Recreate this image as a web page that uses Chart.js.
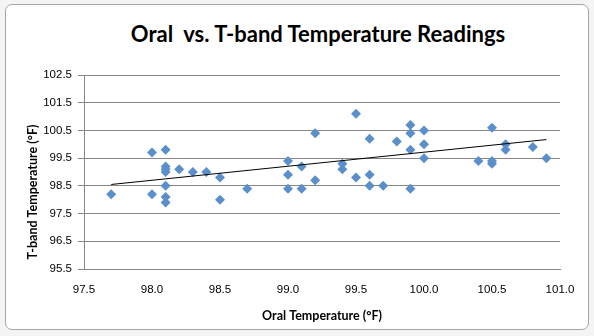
<!DOCTYPE html>
<html>

<head>
    <title>Oral vs. T-band</title>
    <style>
        html,
        body {
            margin: 0;
            padding: 0;
            width: 594px;
            height: 336px;
            overflow: hidden;
            background: #f4f4f4;
        }

        #frame {
            position: absolute;
            left: 5px;
            top: 4px;
            width: 582px;
            height: 324px;
            background: #fff;
            border: 1px solid #a6a6a6;
            border-radius: 7px;
        }

        #title {
            position: absolute;
            left: 0;
            top: 20px;
            width: 636px;
            text-align: center;
            font: bold 22px Lato, "Open Sans", sans-serif;
            color: #000;
        }

        #chart {
            position: absolute;
            left: 0;
            top: 0;
        }
    </style>
</head>

<body>
    <div id="frame"></div>
    <div id="title">Oral&nbsp; vs. T-band Temperature Readings</div>
    <canvas id="chart" width="594" height="336"></canvas>

    <script src="https://cdn.jsdelivr.net/npm/chart.js@4"></script>
    <script>
        // oral reading and matching t-band reading, one pair per patient
        const oral = [
            97.7, 98.0, 98.0, 98.1, 98.1, 98.1, 98.1, 98.1, 98.1, 98.1,
            98.2, 98.3, 98.4, 98.5, 98.5, 98.7, 99.0, 99.0, 99.0, 99.1,
            99.1, 99.2, 99.2, 99.4, 99.4, 99.5, 99.5, 99.6, 99.6, 99.6,
            99.7, 99.8, 99.9, 99.9, 99.9, 99.9, 100.0, 100.0, 100.0, 100.4,
            100.5, 100.5, 100.5, 100.6, 100.6, 100.8, 100.9
        ]
        const tband = [
            98.2, 99.7, 98.2, 99.8, 99.2, 99.1, 99.0, 98.5, 98.1, 97.9,
            99.1, 99.0, 99.0, 98.8, 98.0, 98.4, 99.4, 98.9, 98.4, 99.2,
            98.4, 100.4, 98.7, 99.3, 99.1, 101.1, 98.8, 100.2, 98.9, 98.5,
            98.5, 100.1, 100.7, 100.4, 99.8, 98.4, 100.5, 100.0, 99.5, 99.4,
            100.6, 99.4, 99.3, 100.0, 99.8, 99.9, 99.5
        ]

        // linear trend line ends
        const trendX = [97.7, 100.9]
        const trendY = [98.55, 100.17]

        const points = oral.map((x, i) => ({ x: x, y: tband[i] }))
        const trend = trendX.map((x, i) => ({ x: x, y: trendY[i] }))

        const tickFont = { family: '"Liberation Sans", Arial, sans-serif', size: 11.5 }
        const titleFont = { family: 'Lato, "Open Sans", sans-serif', size: 12.5, weight: 'bold' }

        // y axis title sits a bit below the middle of the plot
        const yTitle = {
            id: 'yTitle',
            afterDraw(chart) {
                const ctx = chart.ctx
                ctx.save()
                ctx.translate(33, 192)
                ctx.rotate(-Math.PI / 2)
                ctx.font = 'bold 12.5px Lato, "Open Sans", sans-serif'
                ctx.fillStyle = '#000'
                ctx.textAlign = 'center'
                ctx.textBaseline = 'middle'
                ctx.fillText('T-band Temperature (°F)', 0, 0)
                ctx.restore()
            }
        }

        new Chart(document.getElementById('chart').getContext('2d'), {
            type: 'scatter',
            data: {
                datasets: [{
                    data: points,
                    pointStyle: 'rectRot',
                    pointRadius: 5,
                    backgroundColor: '#5a8fcb',
                    borderColor: '#5a8fcb',
                    borderWidth: 0,
                    order: 1
                }, {
                    type: 'line',
                    data: trend,
                    borderColor: '#000',
                    borderWidth: 1,
                    pointRadius: 0,
                    fill: false,
                    order: 0
                }]
            },
            plugins: [yTitle],
            options: {
                responsive: false,
                animation: false,
                layout: { padding: { top: 75, right: 34, left: 0, bottom: 0 } },
                plugins: {
                    legend: { display: false },
                    tooltip: { enabled: false }
                },
                scales: {
                    x: {
                        type: 'linear',
                        min: 97.5,
                        max: 101,
                        afterFit: s => { s.height = 67 },
                        ticks: {
                            stepSize: 0.5,
                            color: '#000',
                            font: tickFont,
                            padding: 9,
                            callback: v => v.toFixed(1)
                        },
                        grid: { display: false, drawTicks: true, tickLength: 5, tickColor: '#868686' },
                        border: { display: true, color: '#868686' },
                        title: { display: true, text: 'Oral Temperature (°F)', color: '#000', font: titleFont, padding: { top: 4, bottom: 13 } }
                    },
                    y: {
                        min: 95.5,
                        max: 102.5,
                        afterFit: s => { s.width = 84 },
                        ticks: {
                            stepSize: 1,
                            color: '#000',
                            font: tickFont,
                            padding: 6,
                            callback: v => v.toFixed(1)
                        },
                        grid: { color: '#868686', drawTicks: true, tickLength: 6, tickColor: '#868686' },
                        border: { display: true, color: '#868686' }
                    }
                }
            }
        });
    </script>
</body>

</html>
